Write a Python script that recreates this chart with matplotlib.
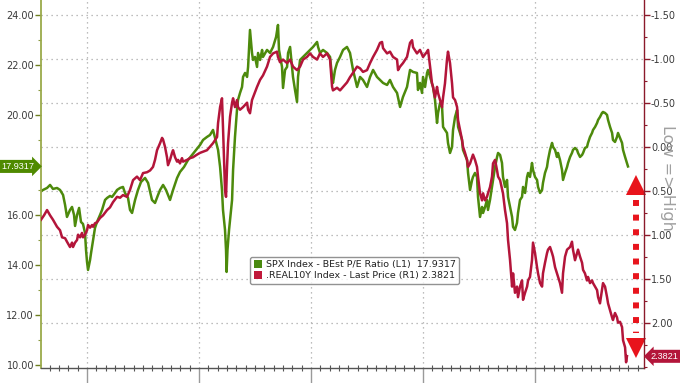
import matplotlib
matplotlib.use('Agg')
import matplotlib.pyplot as plt
from matplotlib.patches import Patch, Polygon
from matplotlib.ticker import MultipleLocator, FixedLocator, FuncFormatter

plt.rcParams['font.family'] = ['DejaVu Sans']

# ---------------- data ----------------
# SPX Index - BEst P/E Ratio (left axis); dates as decimal years
pe_dates = [
    2018.580, 2018.607, 2018.643, 2018.670, 2018.696, 2018.732, 2018.759, 2018.786, 2018.804, 2018.821,
    2018.848, 2018.866, 2018.884, 2018.893, 2018.911, 2018.929, 2018.946, 2018.964, 2018.982, 2018.991,
    2019.000, 2019.009, 2019.027, 2019.036, 2019.054, 2019.071, 2019.089, 2019.116, 2019.134, 2019.161,
    2019.179, 2019.205, 2019.223, 2019.250, 2019.268, 2019.295, 2019.321, 2019.339, 2019.366, 2019.384,
    2019.402, 2019.429, 2019.455, 2019.482, 2019.518, 2019.545, 2019.580, 2019.607, 2019.634, 2019.652,
    2019.679, 2019.705, 2019.741, 2019.768, 2019.804, 2019.830, 2019.866, 2019.902, 2019.938, 2019.973,
    2020.009, 2020.036, 2020.071,
    2020.098, 2020.125, 2020.170, 2020.188, 2020.205, 2020.214, 2020.232, 2020.241, 2020.246, 2020.254,
    2020.268, 2020.295, 2020.304, 2020.321, 2020.339, 2020.348, 2020.366, 2020.384, 2020.393, 2020.411,
    2020.429, 2020.438, 2020.446, 2020.455, 2020.473, 2020.482, 2020.500, 2020.518, 2020.527, 2020.545,
    2020.563, 2020.571, 2020.607, 2020.634, 2020.661, 2020.688, 2020.705, 2020.714, 2020.741, 2020.750,
    2020.768, 2020.786, 2020.795, 2020.813, 2020.830, 2020.839, 2020.857, 2020.875, 2020.884, 2020.902,
    2020.929, 2020.964, 2020.991, 2021.018, 2021.054, 2021.063, 2021.080, 2021.107, 2021.143, 2021.170,
    2021.188, 2021.196, 2021.214, 2021.232, 2021.259, 2021.286, 2021.321, 2021.348, 2021.375, 2021.411,
    2021.438, 2021.464, 2021.500, 2021.527,
    2021.554, 2021.589, 2021.616, 2021.643, 2021.679, 2021.705, 2021.732, 2021.768, 2021.795, 2021.813,
    2021.821, 2021.857, 2021.884, 2021.911, 2021.946, 2021.955, 2021.973, 2021.991, 2022.000, 2022.018,
    2022.036, 2022.045, 2022.063, 2022.089, 2022.107, 2022.125, 2022.134, 2022.152, 2022.170, 2022.179,
    2022.214, 2022.223, 2022.241, 2022.259, 2022.268, 2022.286, 2022.304, 2022.313, 2022.330, 2022.348,
    2022.357, 2022.393, 2022.402, 2022.420, 2022.438, 2022.446, 2022.464, 2022.482, 2022.491, 2022.509,
    2022.527, 2022.536, 2022.554, 2022.571, 2022.580, 2022.598, 2022.625, 2022.643, 2022.661, 2022.670,
    2022.688, 2022.705, 2022.714, 2022.732, 2022.750, 2022.759, 2022.777, 2022.795, 2022.804, 2022.821,
    2022.839, 2022.848, 2022.866, 2022.884, 2022.893, 2022.911, 2022.929, 2022.938, 2022.955, 2022.973,
    2022.982, 2023.000, 2023.018, 2023.027, 2023.045, 2023.063, 2023.071, 2023.089, 2023.107, 2023.116,
    2023.134, 2023.152, 2023.161, 2023.179, 2023.196, 2023.205, 2023.223, 2023.241, 2023.250, 2023.268,
    2023.286, 2023.295, 2023.313, 2023.330, 2023.339, 2023.357, 2023.375, 2023.384, 2023.402, 2023.420,
    2023.429, 2023.446, 2023.464, 2023.473, 2023.491, 2023.509, 2023.518, 2023.536, 2023.554, 2023.563,
    2023.580, 2023.598, 2023.607, 2023.625, 2023.643, 2023.652, 2023.670, 2023.688, 2023.696, 2023.714,
    2023.732, 2023.741, 2023.759, 2023.777, 2023.786, 2023.804, 2023.821, 2023.830,
]
pe_values = [
    16.91, 16.99, 17.07, 17.19, 17.03, 17.07, 16.99, 16.79, 16.39, 15.91,
    16.19, 16.31, 15.99, 15.55, 15.99, 16.27, 15.71, 15.63, 15.27, 14.59,
    14.11, 13.79, 14.19, 14.47, 14.99, 15.47, 15.71, 15.99, 16.19, 16.59,
    16.67, 16.75, 16.71, 16.87, 16.99, 17.07, 17.11, 16.87, 16.67, 16.19,
    16.07, 16.59, 16.99, 17.31, 17.47, 17.27, 16.59, 16.47, 16.79, 16.99,
    17.19, 16.99, 16.59, 16.99, 17.47, 17.71, 17.91, 18.19, 18.39, 18.59,
    18.79, 18.99, 19.11,
    19.19, 19.39, 18.59, 17.91, 16.99, 16.19, 15.39, 14.59, 13.71, 14.59,
    15.39, 16.59, 17.79, 19.11, 20.19, 20.59, 20.87, 21.11, 21.51, 21.67,
    21.51, 21.91, 22.59, 23.39, 22.47, 22.19, 22.31, 21.91, 22.47, 22.19,
    22.59, 22.31, 22.59, 22.47, 22.71, 23.11, 23.59, 22.59, 21.91, 21.07,
    21.79, 21.91, 22.47, 22.71, 21.91, 21.51, 20.99, 20.51, 21.51, 22.19,
    22.31, 22.47, 22.59, 22.71, 22.91, 22.71, 22.47, 22.59, 22.47, 22.31,
    21.51, 21.27, 21.79, 22.07, 22.31, 22.59, 22.71, 22.47, 21.79, 21.11,
    21.51, 21.39, 21.11, 21.51,
    21.79, 21.51, 21.39, 21.27, 21.19, 21.39, 21.11, 20.87, 20.31, 20.59,
    20.71, 21.11, 21.79, 21.71, 21.67, 20.99, 21.27, 20.87, 21.51, 21.11,
    21.67, 21.79, 21.51, 21.11, 20.59, 19.67, 20.07, 20.47, 20.31, 19.51,
    19.27, 18.87, 18.47, 18.71, 19.39, 19.91, 20.19, 19.51, 19.27, 18.99,
    18.59, 18.19, 17.67, 16.99, 17.39, 17.51, 17.67, 17.51, 16.71, 15.91,
    16.31, 16.07, 16.31, 16.59, 16.19, 16.59, 17.39, 17.91, 18.31, 18.47,
    18.39, 18.07, 17.51, 17.11, 17.39, 16.71, 16.31, 15.91, 15.51, 15.39,
    15.67, 16.07, 16.59, 16.71, 17.11, 16.87, 17.51, 17.67, 17.51, 18.07,
    17.79, 17.51, 17.39, 17.11, 16.87, 16.99, 17.27, 17.67, 17.91, 18.19,
    18.59, 18.87, 18.71, 18.59, 18.31, 18.47, 18.19, 17.79, 17.39, 17.67,
    17.91, 18.07, 18.31, 18.47, 18.59, 18.67, 18.59, 18.47, 18.31, 18.39,
    18.47, 18.67, 18.71, 18.87, 19.11, 19.27, 19.39, 19.51, 19.67, 19.79,
    19.91, 20.07, 20.11, 20.07, 19.99, 19.79, 19.51, 19.27, 18.99, 18.91,
    19.11, 19.27, 19.07, 18.87, 18.59, 18.31, 18.07, 17.93,
]

# .REAL10Y Index - Last Price (right axis, inverted)
ry_dates = [
    2018.589, 2018.616, 2018.643, 2018.670, 2018.696, 2018.732, 2018.759, 2018.777, 2018.804, 2018.821,
    2018.848, 2018.866, 2018.875, 2018.893, 2018.911, 2018.920, 2018.938, 2018.955, 2018.964, 2018.982,
    2019.000, 2019.009, 2019.027, 2019.045, 2019.054, 2019.071, 2019.089, 2019.116, 2019.143, 2019.179,
    2019.205, 2019.232, 2019.268, 2019.295, 2019.321, 2019.357, 2019.384, 2019.411, 2019.446, 2019.473,
    2019.500, 2019.536, 2019.563, 2019.589, 2019.607, 2019.625, 2019.652, 2019.670, 2019.679, 2019.696,
    2019.714, 2019.723, 2019.741, 2019.759, 2019.768, 2019.786, 2019.804, 2019.813, 2019.830, 2019.848,
    2019.857, 2019.893, 2019.920, 2019.946, 2019.982, 2020.009, 2020.071,
    2020.098, 2020.125, 2020.161, 2020.170, 2020.188, 2020.205, 2020.214, 2020.223, 2020.232, 2020.241,
    2020.250, 2020.259, 2020.277, 2020.295, 2020.304, 2020.321, 2020.339, 2020.348, 2020.366, 2020.393,
    2020.429, 2020.438, 2020.455, 2020.473, 2020.482, 2020.518, 2020.545, 2020.571, 2020.607, 2020.634,
    2020.661, 2020.696, 2020.705, 2020.723, 2020.750, 2020.786, 2020.813, 2020.839, 2020.875, 2020.902,
    2020.929, 2020.964, 2020.991, 2021.018, 2021.054, 2021.080, 2021.107, 2021.143, 2021.170, 2021.188,
    2021.196, 2021.232, 2021.259, 2021.286, 2021.321, 2021.348, 2021.375, 2021.411, 2021.438, 2021.464,
    2021.500, 2021.527,
    2021.554, 2021.589, 2021.616, 2021.634, 2021.643, 2021.679, 2021.705, 2021.732, 2021.768, 2021.777,
    2021.795, 2021.821, 2021.857, 2021.884, 2021.902, 2021.911, 2021.946, 2021.973, 2022.000, 2022.036,
    2022.045, 2022.063, 2022.080, 2022.089, 2022.107, 2022.125, 2022.134, 2022.152, 2022.170, 2022.179,
    2022.196, 2022.214, 2022.223, 2022.241, 2022.259, 2022.268, 2022.286, 2022.304, 2022.313, 2022.330,
    2022.348, 2022.357, 2022.375, 2022.393, 2022.402, 2022.420, 2022.438, 2022.446, 2022.464, 2022.482,
    2022.491, 2022.509, 2022.527, 2022.536, 2022.554, 2022.571, 2022.580, 2022.598, 2022.616, 2022.625,
    2022.643, 2022.661, 2022.670,
    2022.688, 2022.714, 2022.732, 2022.750, 2022.759, 2022.777, 2022.795, 2022.804, 2022.821, 2022.839,
    2022.848, 2022.866, 2022.884, 2022.893, 2022.911, 2022.929, 2022.938, 2022.955, 2022.973, 2022.982,
    2023.000, 2023.018, 2023.027, 2023.045, 2023.063, 2023.071, 2023.089, 2023.107, 2023.116, 2023.134,
    2023.152, 2023.161, 2023.179, 2023.196, 2023.205, 2023.223, 2023.241, 2023.250, 2023.268, 2023.286,
    2023.313, 2023.330, 2023.339, 2023.357, 2023.375, 2023.384, 2023.402, 2023.420, 2023.429, 2023.446,
    2023.464, 2023.473, 2023.491, 2023.509, 2023.518, 2023.536, 2023.554, 2023.563, 2023.580, 2023.598,
    2023.607, 2023.625, 2023.643, 2023.652, 2023.670, 2023.688, 2023.696, 2023.714, 2023.732, 2023.741,
    2023.759, 2023.777, 2023.786, 2023.804, 2023.813, 2023.821,
]
ry_values = [
    0.83, 0.78, 0.72, 0.78, 0.83, 0.91, 0.95, 1.03, 1.04, 1.08,
    1.14, 1.09, 1.14, 1.09, 1.06, 1.00, 1.03, 0.98, 1.03, 1.00,
    0.95, 0.89, 0.92, 0.89, 0.91, 0.87, 0.86, 0.81, 0.78, 0.72,
    0.69, 0.63, 0.57, 0.58, 0.55, 0.57, 0.49, 0.38, 0.34, 0.38,
    0.30, 0.29, 0.27, 0.23, 0.15, 0.04, -0.04, -0.10, -0.08, 0.00,
    0.12, 0.21, 0.15, 0.07, 0.04, 0.12, 0.17, 0.15, 0.19, 0.13,
    0.17, 0.15, 0.13, 0.12, 0.09, 0.07, 0.04,
    0.00, -0.04, -0.11, -0.27, -0.45, -0.55, -0.22, 0.15, 0.49, 0.57,
    0.23, -0.04, -0.34, -0.50, -0.55, -0.45, -0.53, -0.45, -0.42, -0.45,
    -0.50, -0.42, -0.38, -0.53, -0.56, -0.68, -0.76, -0.81, -0.91, -1.02,
    -1.06, -1.08, -1.02, -0.96, -0.99, -0.95, -0.99, -0.91, -0.87, -0.91,
    -0.99, -1.02, -1.06, -1.02, -0.99, -1.06, -1.02, -1.06, -0.99, -0.68,
    -0.64, -0.67, -0.64, -0.68, -0.73, -0.79, -0.84, -0.91, -0.89, -0.85,
    -0.87, -0.95,
    -1.02, -1.10, -1.18, -1.19, -1.12, -1.06, -1.08, -1.02, -0.99, -0.87,
    -0.91, -0.95, -1.02, -1.18, -1.21, -1.13, -1.06, -1.10, -1.02, -1.08,
    -1.10, -0.91, -0.72, -0.68, -0.56, -0.68, -0.61, -0.53, -0.45, -0.56,
    -0.72, -0.99, -1.08, -0.95, -0.72, -0.56, -0.53, -0.45, -0.30, -0.19,
    -0.08, 0.00, 0.07, 0.15, 0.23, 0.19, 0.12, 0.09, 0.15, 0.23,
    0.34, 0.53, 0.61, 0.53, 0.61, 0.57, 0.53, 0.46, 0.34, 0.19,
    0.15, 0.27, 0.34,
    0.38, 0.53, 0.72, 0.87, 1.06, 1.29, 1.59, 1.44, 1.66, 1.59,
    1.71, 1.59, 1.52, 1.74, 1.66, 1.59, 1.52, 1.48, 1.29, 1.09,
    1.21, 1.37, 1.44, 1.55, 1.59, 1.44, 1.32, 1.21, 1.17, 1.14,
    1.21, 1.25, 1.37, 1.44, 1.48, 1.55, 1.66, 1.44, 1.25, 1.17,
    1.14, 1.08, 1.17, 1.29, 1.21, 1.17, 1.25, 1.32, 1.40, 1.44,
    1.52, 1.48, 1.55, 1.52, 1.55, 1.59, 1.63, 1.71, 1.78, 1.63,
    1.55, 1.59, 1.71, 1.78, 1.86, 1.94, 1.97, 1.89, 1.94, 2.00,
    1.99, 2.05, 2.20, 2.28, 2.45, 2.38,
]

pe_last = 17.9317
ry_last = 2.3821
year_ticks = [2019, 2020, 2021, 2022, 2023, 2024]
left_ticks = [10, 12, 14, 16, 18, 20, 22, 24]
right_ticks = [-1.5, -1.0, -0.5, 0.0, 0.5, 1.0, 1.5, 2.0]
legend_labels = ['SPX Index - BEst P/E Ratio (L1)  17.9317',
                 '.REAL10Y Index - Last Price (R1) 2.3821']
side_label = 'Low => High'

assert len(pe_dates) == len(pe_values)
assert len(ry_dates) == len(ry_values)

# ---------------- style ----------------
GREEN = '#4d8a0c'
RED = '#b3153a'
GRID = '#a8a8a8'
XLIM = (2018.589, 2023.973)
LEFT_LIM = (9.868, 24.588)
RIGHT_LIM = (2.515, -1.667)

fig = plt.figure(figsize=(6.8, 3.83), dpi=100)
fig.patch.set_facecolor('white')
rect = [41 / 680, 15 / 383, 603 / 680, 368 / 383]

# background axes for grid
gax = fig.add_axes(rect)
gax.set_xlim(*XLIM)
gax.set_ylim(*RIGHT_LIM)
gax.set_xticks(year_ticks[:-1])
gax.set_yticks(right_ticks)
gax.grid(True, color=GRID, linestyle=(0, (1, 3)), linewidth=0.9)
gax.tick_params(left=False, bottom=False, labelleft=False, labelbottom=False)
for s in gax.spines.values():
    s.set_visible(False)

ax = fig.add_axes(rect)
ax.patch.set_visible(False)
ax.set_xlim(*XLIM)
ax.set_ylim(*LEFT_LIM)
ax.plot(pe_dates, pe_values, color=GREEN, lw=1.8, solid_joinstyle='round')

ax.yaxis.set_major_locator(FixedLocator(left_ticks))
ax.yaxis.set_minor_locator(MultipleLocator(1))
ax.yaxis.set_major_formatter(FuncFormatter(lambda v, p: '' if abs(v - 18) < 1e-6 else f'{v:.2f}'))
ax.tick_params(axis='y', which='major', length=4, width=1.0, color='#6f7f20',
               labelsize=7, labelcolor='#3a3a3a', pad=1)
ax.tick_params(axis='y', which='minor', length=2.5, width=0.8, color='#8a9a40')

ax.xaxis.set_major_locator(FixedLocator(year_ticks))
ax.xaxis.set_minor_locator(MultipleLocator(1 / 12))
ax.tick_params(axis='x', which='major', direction='out', length=16, width=1.0,
               color='#9a9a9a', labelbottom=False)
ax.tick_params(axis='x', which='minor', direction='inout', length=4, width=0.8,
               color='#555555')

ax.spines['top'].set_visible(False)
ax.spines['right'].set_visible(False)
ax.spines['left'].set_color('#9aaa4a')
ax.spines['left'].set_linewidth(1.3)
ax.spines['bottom'].set_color('#555555')
ax.spines['bottom'].set_linewidth(1.0)

ax2 = ax.twinx()
ax2.set_ylim(*RIGHT_LIM)
ax2.plot(ry_dates, ry_values, color=RED, lw=1.8, solid_joinstyle='round')
ax2.yaxis.set_major_locator(FixedLocator(right_ticks))
ax2.yaxis.set_minor_locator(MultipleLocator(0.25))
ax2.yaxis.set_major_formatter(FuncFormatter(lambda v, p: f'{v:.2f}'))
ax2.tick_params(axis='y', which='major', length=4, width=1.0, color='#8b1a2b',
                labelsize=7, labelcolor='#3a3a3a', pad=1)
ax2.tick_params(axis='y', which='minor', length=2.5, width=0.8, color='#8b1a2b')
for k in ('top', 'left', 'bottom'):
    ax2.spines[k].set_visible(False)
ax2.spines['right'].set_color('#8b1a2b')
ax2.spines['right'].set_linewidth(1.0)

# last-value tags
TAG_FONT = ['Liberation Sans', 'DejaVu Sans']
ax.annotate(f'{pe_last:.4f}', xy=(0, pe_last), xycoords=('axes fraction', 'data'),
            xytext=(-4.5, 0), textcoords='offset points', ha='right', va='center',
            fontsize=6.6, family=TAG_FONT, color='white', annotation_clip=False,
            bbox=dict(boxstyle='rarrow,pad=0.22', fc='#4f8a00', ec='none'))
ax2.annotate(f'{ry_last:.4f}', xy=(1, ry_last), xycoords=('axes fraction', 'data'),
             xytext=(5, 0), textcoords='offset points', ha='left', va='center',
             fontsize=6.6, family=TAG_FONT, color='white', annotation_clip=False,
             bbox=dict(boxstyle='larrow,pad=0.22', fc='#b3153a', ec='none'))

# legend
handles = [Patch(facecolor='#4a8a10', edgecolor='none'),
           Patch(facecolor='#c0183a', edgecolor='none')]
leg = ax2.legend(handles, legend_labels, loc='upper left', bbox_to_anchor=(0.347, 0.302),
                 fontsize=6.8, frameon=True, fancybox=True, edgecolor='#777777',
                 handlelength=0.9, handleheight=0.9, handletextpad=0.4,
                 borderpad=0.35, labelspacing=0.2, borderaxespad=0)
leg.get_frame().set_linewidth(1.0)
for t in leg.get_texts():
    t.set_color('#222222')

# side label
fig.text(667 / 680, 1 - 178 / 383, side_label, rotation=270, fontsize=11.5,
         color='#a0a0a0', ha='center', va='center')

# red dotted double arrow
ARROW = '#e8141c'
ax2.plot([0.9867, 0.9867], [0.4565, 0.0951], transform=ax2.transAxes, color=ARROW,
         lw=4.3, linestyle=(0, (1.0, 1.45)), solid_capstyle='butt',
         dash_capstyle='butt', clip_on=False)
ax2.add_patch(Polygon([[0.9867, 0.5245], [0.9701, 0.4701], [1.0033, 0.4701]],
                      closed=True, transform=ax2.transAxes, fc=ARROW, ec='none',
                      clip_on=False))
ax2.add_patch(Polygon([[0.9867, 0.0272], [0.9701, 0.0815], [1.0033, 0.0815]],
                      closed=True, transform=ax2.transAxes, fc=ARROW, ec='none',
                      clip_on=False))

fig.savefig('out.png', dpi=100)
